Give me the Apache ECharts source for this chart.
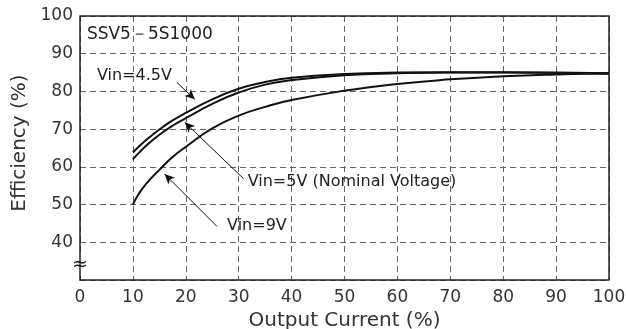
<!DOCTYPE html>
<html lang="en">
<head>
    <meta charset="utf-8">
    <script src="https://cdn.jsdelivr.net/npm/echarts@6/dist/echarts.min.js"></script>
    <style>
        html, body { margin: 0; padding: 0; background: #fff; }
        #main { width: 626px; height: 329px; }
    </style>
</head>
<body>
<div id="main"></div>
<script type="text/javascript">
    // output current (%) and efficiency (%)
    var current = [10, 11, 12.5, 15, 17.5, 20, 25, 30, 35, 40, 50, 60, 70, 80, 90, 100];
    var eff45 = [63.8, 65.2, 67.1, 69.9, 72.3, 74.3, 77.9, 80.7, 82.5, 83.6, 84.6, 85.0, 85.1, 85.1, 85.0, 84.8];
    var eff5 = [62.0, 63.5, 65.6, 68.5, 70.9, 72.9, 76.7, 79.7, 81.8, 83.0, 84.3, 84.8, 85.0, 85.0, 84.9, 84.7];
    var eff9 = [50.0, 52.6, 55.5, 59.2, 62.6, 65.3, 70.2, 73.6, 75.9, 77.7, 80.2, 82.0, 83.2, 84.0, 84.5, 84.8];
    var xTicks = [0, 10, 20, 30, 40, 50, 60, 70, 80, 90, 100];
    var yTicks = [40, 50, 60, 70, 80, 90, 100];

    var font = 'DejaVu Sans';
    var chart = echarts.init(document.getElementById('main'));

    function pairs(ys) {
        var out = [];
        for (var i = 0; i < current.length; i++) {
            out.push([current[i], ys[i]]);
        }
        return out;
    }

    function arrow(from, to) {
        return [{coord: from}, {coord: to}];
    }

    var arrowStyle = {
        silent: true,
        symbol: ['none', 'arrow'],
        symbolSize: [7, 10],
        label: {show: false},
        lineStyle: {color: '#111', width: 1, type: 'solid'},
        emphasis: {disabled: true}
    };

    var option = {
        animation: false,
        grid: {left: 80, right: 17, top: 16, bottom: 49, outerBoundsMode: 'none', containLabel: false},
        xAxis: {
            type: 'value',
            min: 0, max: 100, interval: 10,
            name: 'Output Current (%)',
            nameLocation: 'middle',
            nameGap: 27,
            nameTextStyle: {fontFamily: font, fontSize: 20, color: '#333'},
            axisLine: {lineStyle: {color: '#222', width: 1.5}},
            axisTick: {show: false},
            axisLabel: {
                fontFamily: font, fontSize: 17, color: '#333', margin: 9,
                formatter: function (v) { return xTicks.indexOf(v) >= 0 ? String(v) : ''; }
            },
            splitLine: {show: true, lineStyle: {color: '#666', type: [6, 4], width: 1}}
        },
        yAxis: {
            type: 'value',
            min: 30, max: 100, interval: 10,
            name: 'Efficiency (%)',
            nameLocation: 'middle',
            nameGap: 47,
            nameTextStyle: {fontFamily: font, fontSize: 20, color: '#333', padding: [0, 0, 0, 10]},
            axisLine: {show: true, lineStyle: {color: '#222', width: 1.5}},
            axisTick: {show: false},
            axisLabel: {
                fontFamily: font, fontSize: 17, color: '#333', margin: 7,
                formatter: function (v) { return yTicks.indexOf(v) >= 0 ? String(v) : ''; }
            },
            splitLine: {show: true, lineStyle: {color: '#666', type: [6, 4], width: 1}}
        },
        series: [
            {
                name: 'Vin=4.5V', type: 'line', smooth: true, symbol: 'none',
                data: pairs(eff45),
                lineStyle: {color: '#111', width: 2}
            },
            {
                name: 'Vin=5V', type: 'line', smooth: true, symbol: 'none',
                data: pairs(eff5),
                lineStyle: {color: '#111', width: 2},
                markLine: Object.assign({}, arrowStyle, {
                    data: [
                        arrow([18.3, 82.4], [21.7, 77.9]),
                        arrow([30.9, 56.9], [19.8, 71.8]),
                        arrow([25.9, 44.2], [16.0, 58.1])
                    ]
                })
            },
            {
                name: 'Vin=9V', type: 'line', smooth: true, symbol: 'none',
                data: pairs(eff9),
                lineStyle: {color: '#111', width: 2}
            }
        ]
    };
    chart.setOption(option);

    // frame on top/right, captions and the axis break mark
    function px(x, y) { return chart.convertToPixel({gridIndex: 0}, [x, y]); }
    var tl = px(0, 100);
    var br = px(100, 30);
    function caption(text, x, y, size) {
        var p = px(x, y);
        return {
            type: 'text', x: p[0], y: p[1], silent: true,
            style: {text: text, fontFamily: font, fontSize: size, fill: '#222', verticalAlign: 'middle'}
        };
    }
    var brk = px(0, 34);
    chart.setOption({
        graphic: [
            {
                type: 'polyline', silent: true,
                shape: {points: [[tl[0], tl[1]], [br[0], tl[1]], [br[0], br[1]]]},
                style: {stroke: '#222', lineWidth: 1.5, fill: null}
            },
            caption('SSV5－5S1000', 1.3, 95, 17),
            caption('Vin=4.5V', 3.2, 84.2, 16),
            caption('Vin=5V (Nominal Voltage)', 31.7, 56, 16),
            caption('Vin=9V', 27.8, 44.3, 16),
            {
                type: 'text', x: brk[0], y: brk[1], silent: true,
                style: {text: '≈', fontFamily: font, fontSize: 19, fill: '#222',
                        align: 'center', verticalAlign: 'middle',
                        backgroundColor: '#fff'}
            }
        ]
    });
</script>
</body>
</html>
